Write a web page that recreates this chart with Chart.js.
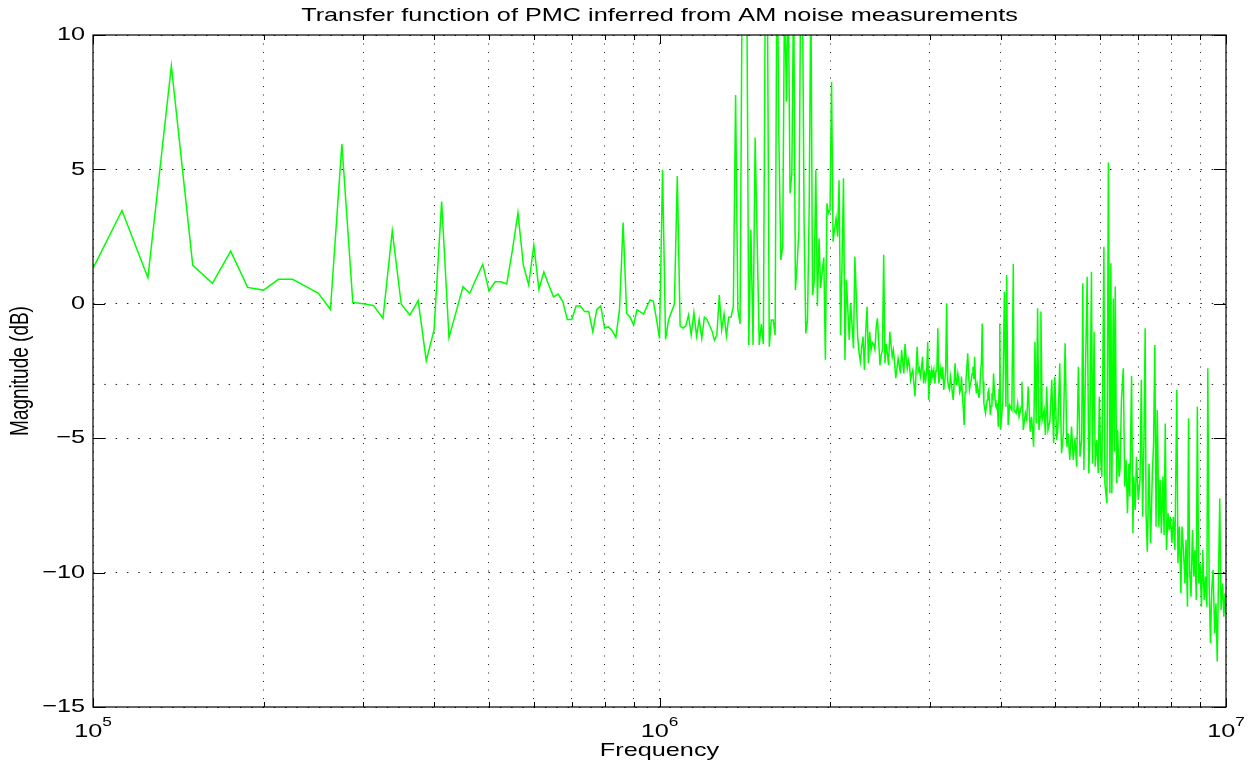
<!DOCTYPE html>
<html>
<head>
<meta charset="utf-8">
<title>Transfer function of PMC</title>
<script src="https://cdn.jsdelivr.net/npm/chart.js@4.4.1/dist/chart.umd.min.js"></script>
<style>
  html, body { margin: 0; padding: 0; background: #fff; }
  canvas { display: block; }
</style>
</head>
<body>
<canvas id="tfChart" width="1253" height="765"></canvas>
<script>
// frequency of each sample, kHz
const freqKHz = [
  100, 112.5, 125, 137.5, 150, 162.5, 175, 187.5, 200, 212.5,
  225, 237.5, 250, 262.5, 275, 287.5, 300, 312.5, 325, 337.5,
  350, 362.5, 375, 387.5, 400, 412.5, 425, 437.5, 450, 462.5,
  475, 487.5, 500, 512.5, 525, 537.5, 550, 562.5, 575, 587.5,
  600, 612.5, 625, 637.5, 650, 662.5, 675, 687.5, 700, 712.5,
  725, 737.5, 750, 762.5, 775, 787.5, 800, 812.5, 825, 837.5,
  850, 862.5, 875, 887.5, 900, 912.5, 925, 937.5, 950, 962.5,
  975, 987.5, 1000, 1012.5, 1025, 1037.5, 1050, 1062.5, 1075, 1087.5,
  1100, 1112.5, 1125, 1137.5, 1150, 1162.5, 1175, 1187.5, 1200, 1212.5,
  1225, 1237.5, 1250, 1262.5, 1275, 1287.5, 1300, 1312.5, 1325, 1337.5,
  1350, 1362.5, 1375, 1387.5, 1400, 1412.5, 1425, 1437.5, 1450, 1462.5,
  1475, 1487.5, 1500, 1512.5, 1525, 1537.5, 1550, 1562.5, 1575, 1587.5,
  1600, 1612.5, 1625, 1637.5, 1650, 1662.5, 1675, 1687.5, 1700, 1712.5,
  1725, 1737.5, 1750, 1762.5, 1775, 1787.5, 1800, 1812.5, 1825, 1837.5,
  1850, 1862.5, 1875, 1887.5, 1900, 1912.5, 1925, 1937.5, 1950, 1962.5,
  1975, 1987.5, 2000, 2012.5, 2025, 2037.5, 2050, 2062.5, 2075, 2087.5,
  2100, 2112.5, 2125, 2137.5, 2150, 2162.5, 2175, 2187.5, 2200, 2212.5,
  2225, 2237.5, 2250, 2262.5, 2275, 2287.5, 2300, 2312.5, 2325, 2337.5,
  2350, 2362.5, 2375, 2387.5, 2400, 2412.5, 2425, 2437.5, 2450, 2462.5,
  2475, 2487.5, 2500, 2512.5, 2525, 2537.5, 2550, 2562.5, 2575, 2587.5,
  2600, 2612.5, 2625, 2637.5, 2650, 2662.5, 2675, 2687.5, 2700, 2712.5,
  2725, 2737.5, 2750, 2762.5, 2775, 2787.5, 2800, 2812.5, 2825, 2837.5,
  2850, 2862.5, 2875, 2887.5, 2900, 2912.5, 2925, 2937.5, 2950, 2962.5,
  2975, 2987.5, 3000, 3012.5, 3025, 3037.5, 3050, 3062.5, 3075, 3087.5,
  3100, 3112.5, 3125, 3137.5, 3150, 3162.5, 3175, 3187.5, 3200, 3212.5,
  3225, 3237.5, 3250, 3262.5, 3275, 3287.5, 3300, 3312.5, 3325, 3337.5,
  3350, 3362.5, 3375, 3387.5, 3400, 3412.5, 3425, 3437.5, 3450, 3462.5,
  3475, 3487.5, 3500, 3512.5, 3525, 3537.5, 3550, 3562.5, 3575, 3587.5,
  3600, 3612.5, 3625, 3637.5, 3650, 3662.5, 3675, 3687.5, 3700, 3712.5,
  3725, 3737.5, 3750, 3762.5, 3775, 3787.5, 3800, 3812.5, 3825, 3837.5,
  3850, 3862.5, 3875, 3887.5, 3900, 3912.5, 3925, 3937.5, 3950, 3962.5,
  3975, 3987.5, 4000,
  4037.5, 4062.5, 4087.5, 4100, 4125, 4150, 4187.5, 4212.5, 4225, 4262.5,
  4287.5, 4312.5, 4350, 4362.5, 4387.5, 4425, 4450, 4475, 4512.5, 4537.5,
  4575, 4600, 4625, 4650, 4675, 4700, 4712.5, 4737.5, 4775, 4800,
  4825, 4850, 4887.5, 4925, 4962.5, 4987.5, 5025, 5050, 5087.5, 5125,
  5162.5, 5200, 5237.5, 5262.5, 5300, 5337.5, 5375, 5412.5, 5450, 5487.5,
  5525, 5562.5, 5587.5, 5612.5, 5650, 5687.5, 5725, 5750, 5787.5, 5812.5,
  5850, 5875, 5912.5, 5950, 5975, 6012.5, 6037.5, 6087.5, 6112.5, 6162.5,
  6200, 6237.5, 6262.5, 6287.5, 6325, 6350, 6375, 6412.5, 6437.5, 6475,
  6500, 6537.5, 6587.5, 6625, 6662.5, 6700, 6737.5, 6762.5, 6812.5, 6850,
  6875, 6912.5, 6950, 7000, 7050, 7087.5, 7125, 7162.5, 7200, 7225,
  7262.5, 7312.5, 7362.5, 7412.5, 7450, 7487.5, 7525, 7562.5, 7612.5, 7650,
  7687.5, 7737.5, 7775, 7812.5, 7850, 7900, 7937.5, 7975, 8025, 8075,
  8125, 8187.5, 8225, 8275, 8325, 8362.5, 8412.5, 8462.5, 8500, 8550,
  8587.5, 8625, 8675, 8725, 8775, 8812.5, 8862.5, 8900, 8950, 9000,
  9050, 9100, 9150, 9200, 9250, 9287.5, 9337.5, 9387.5, 9437.5, 9487.5,
  9550, 9600, 9650, 9700, 9750, 9800, 9862.5, 9912.5, 9962.5, 10000
];

// magnitude, dB (same order as freqKHz)
const magDb = [
  1.32, 3.47, 0.97, 8.85, 1.43, 0.76, 1.96, 0.61, 0.51, 0.91,
  0.91, 0.65, 0.39, -0.21, 5.94, 0.05, 0.0, -0.06, -0.54, 2.71,
  -0.01, -0.42, 0.12, -2.12, -0.97, 3.80, -1.25, -0.3, 0.64, 0.39,
  0.95, 1.47, 0.48, 0.82, 0.82, 0.74, 2.0, 3.39, 1.44, 0.70,
  2.19, 0.54, 1.19, 0.7, 0.26, 0.36, 0.08, -0.58, -0.58, -0.08,
  -0.08, -0.29, -0.29, -1.04, -0.21, -0.08, -0.91, -0.85, -1.0, -1.25,
  -0.21, 3.02, -0.36, -0.5, -0.79, -0.23, -0.3, -0.38, -0.1, 0.14,
  0.1, -0.55, -1.29, 4.98, -1.32, -0.60, -0.3, -0.01, 4.75, -0.83,
  -0.9, -0.83, -0.42, -1.16, -0.33, -1.2, -0.58, -1.29, -0.5, -0.58,
  -0.8, -1.0, -1.36, -1.16, 0.33, -0.97, -0.38, -1.2, -0.5, -0.5,
  -0.1, 7.77, -0.2, -0.75, 13, 11, 13, -1.53, 2.75, -1.53,
  6.19, 2.3, -1.53, -0.75, -1.5, 12, 12, -1.6, -0.6, -0.6,
  -1.16, 14, 6, 1.63, 2.12, 12, 7.52, 12, 4.11, 4.85,
  12, 0.51, 1.5, 2.75, 12, 12, 3, -1.1, -0.6, 3.55,
  12, 0.33, 0.8, 4.98, -0.08, 2.44, 0.58, 1.2, 1.72, -2.08,
  3.74, 3.37, 3.5, 8.26, 2.31, 2.8, 3.18, 2.5, 4.6, -1.16,
  1.5, 4.67, -2.09, 0.89, -0.2, -1.35, 0.02, -0.8, -1.66, 1.75,
  0.3, -1.22, -1.8, -2.15, -1.6, -1.22, -2.46, -1.0, -0.11, -2.21,
  -1.04, -1.72, -1.44, -1.5, -1.7, -0.91, -0.54, -1.4, -2.28, -1.9,
  -1.72, 1.82, -2.21, -1.5, -1.84, -2.28, -1.04, -1.5, -1.97, -1.72,
  -2.2, -2.77, -2.4, -2.03, -2.3, -2.59, -1.72, -2.2, -2.59, -1.5,
  -2.0, -2.4, -2.09, -2.3, -2.83, -2.6, -2.46, -3.0, -3.45, -2.5,
  -1.6, -2.52, -2.4, -2.7, -2.4, -1.97, -2.96, -2.6, -2.83, -2.5,
  -1.41, -3.58, -2.46, -2.96, -2.46, -2.7, -2.46, -2.96, -2.5, -2.5,
  -0.91, -2.96, -2.7, -2.4, -2.8, -2.34, -3.2, -2.9, -2.5, 0.02,
  -2.83, -3.1, -3.2, -2.7, -2.96, -3.3, -3.58, -2.9, -2.21, -3.0,
  -2.96, -2.6, -2.83, -3.3, -3.2, -2.71, -3.4, -3.9, -4.51, -3.3,
  -2.83, -2.4, -1.84, -2.6, -3.2, -3.0, -2.83, -2.6, -2.34, -2.8,
  -1.97, -2.9, -3.33, -3.0, -3.2, -3.5, -3.33, -2.5, -2.2, -0.73,
  -2.9, -3.7, -3.9, -4.07, -3.8, -3.58, -3.3, -3.2, -3.6, -4.13,
  -3.8, -3.33, -3.6, -2.59, -3.2, -3.58, -3.83, -3.89, -3.7, -4.57,
  -3.2, -0.73, -4.69,
  -3.58, 0.45, -3.83, 1.07, -4.51, -3.76, -3.95, 1.48, -3.95, -4.07,
  -3.7, -4.2, -3.83, -2.9, -4.69, -4.07, -4.32, -3.08, -4.76, -4.2,
  -5.32, -1.41, -4.45, -0.17, -4.69, -4.2, -0.29, -4.32, -3.95, -4.88,
  -3.08, -4.69, -4.38, -2.83, -5.19, -2.71, -5.07, -4.57, -2.21, -5.56,
  -4.82, -1.47, -5.32, -4.82, -5.81, -4.57, -5.81, -5.0, -6.06, -2.34,
  -5.69, -5.07, 0.76, -6.18, -2.34, 1.01, -6.3, -4.94, 1.19, -5.94,
  -1.04, -6.06, -5.07, -6.3, -3.46, -5.81, -6.43, 2.12, -6.68, -7.42,
  5.26, -7.05, 1.51, -7.05, 0.2, -5.5, 0.64, -6.68, -4.69, -6.43,
  -6.18, -3.58, -2.4, -6.8, -5.81, -7.79, -5.94, -7.17, -2.69, -8.54,
  -6.43, -7.67, -5.69, -7.3, -6.55, -2.83, -7.92, -5.2, -0.91, -7.79,
  -9.22, -5.94, -8.9, -6.3, -5.2, -1.53, -8.29, -3.95, -8.29, -6.55,
  -8.54, -6.43, -8.6, -4.45, -9.16, -7.79, -8.42, -7.92, -8.9, -7.92,
  -9.16, -3.21, -9.65, -8.29, -10.77, -8.29, -9.16, -10.4, -8.78, -11.27,
  -4.26, -9.9, -10.9, -8.42, -10.15, -9.16, -11.02, -3.83, -10.4, -9.65,
  -11.27, -9.16, -11.02, -10.15, -11.27, -2.4, -10.4, -12.63, -10.65, -9.9,
  -12.26, -11.14, -13.31, -10.15, -7.24, -11.39, -10.4, -11.64, -10.77, -11.5
];

// dotted -3 dB reference line
const refFreqKHz = [100, 10000];
const refDb = [-3, -3];

// axis ticks
const xGridKHz = [100, 200, 300, 400, 500, 600, 700, 800, 900,
                  1000, 2000, 3000, 4000, 5000, 6000, 7000, 8000, 9000, 10000];
const xDecadesKHz = [100, 1000, 10000];
const yTicks = [-15, -10, -5, 0, 5, 10];

const titleText = 'Transfer function of PMC inferred from AM noise measurements';
const xTitle = 'Frequency';
const yTitle = 'Magnitude (dB)';

// the reference figure is stretched sideways, so text is widened to match
const STRETCH = 1.33;
const FONT = '"Liberation Sans", Arial, Helvetica, sans-serif';

function drawText(ctx, str, x, y, size, align, baseline) {
    ctx.save();
    ctx.font = size + 'px ' + FONT;
    ctx.textAlign = align;
    ctx.textBaseline = baseline;
    ctx.fillStyle = '#000';
    ctx.translate(x, y);
    ctx.scale(STRETCH, 1);
    ctx.fillText(str, 0, 0);
    ctx.restore();
}

function dbLabel(v) {
    return v < 0 ? '\u2212' + Math.abs(v) : String(v);
}

// matlab-ish box, inward ticks and all the text
const matlabAxes = {
    id: 'matlabAxes',
    afterDraw(chart) {
        const ctx = chart.ctx;
        const a = chart.chartArea;
        const xs = chart.scales.x;
        const ys = chart.scales.y;

        ctx.save();
        ctx.strokeStyle = '#000';
        ctx.lineWidth = 1.2;
        ctx.strokeRect(a.left, a.top, a.right - a.left, a.bottom - a.top);

        ctx.beginPath();
        xGridKHz.forEach(v => {
            const px = Math.round(xs.getPixelForValue(v)) + 0.5;
            const len = xDecadesKHz.includes(v) ? 9 : 5;
            ctx.moveTo(px, a.bottom); ctx.lineTo(px, a.bottom - len);
            ctx.moveTo(px, a.top); ctx.lineTo(px, a.top + len);
        });
        yTicks.forEach(v => {
            const py = Math.round(ys.getPixelForValue(v)) + 0.5;
            ctx.moveTo(a.left, py); ctx.lineTo(a.left + 12, py);
            ctx.moveTo(a.right, py); ctx.lineTo(a.right - 12, py);
        });
        ctx.lineWidth = 1;
        ctx.stroke();
        ctx.restore();

        // y tick labels
        yTicks.forEach(v => {
            drawText(ctx, dbLabel(v), a.left - 8, ys.getPixelForValue(v), 19, 'right', 'middle');
        });

        // x tick labels as 10^n
        xDecadesKHz.forEach(v => {
            const px = xs.getPixelForValue(v);
            const exp = String(Math.round(Math.log10(v * 1000)));
            ctx.save();
            ctx.font = '19px ' + FONT;
            const wBase = ctx.measureText('10').width * STRETCH;
            ctx.font = '13px ' + FONT;
            const wExp = ctx.measureText(exp).width * STRETCH;
            ctx.restore();
            const left = px - (wBase + wExp) / 2;
            drawText(ctx, '10', left, a.bottom + 30, 19, 'left', 'alphabetic');
            drawText(ctx, exp, left + wBase, a.bottom + 19, 13, 'left', 'alphabetic');
        });

        const cx = (a.left + a.right) / 2;
        drawText(ctx, titleText, cx, a.top - 14, 19, 'center', 'alphabetic');
        drawText(ctx, xTitle, cx, a.bottom + 49, 19, 'center', 'alphabetic');

        ctx.save();
        ctx.font = '19px ' + FONT;
        ctx.fillStyle = '#000';
        ctx.textAlign = 'center';
        ctx.textBaseline = 'middle';
        ctx.translate(21, (a.top + a.bottom) / 2);
        ctx.rotate(-Math.PI / 2);
        ctx.scale(1, STRETCH);
        ctx.fillText(yTitle, 0, 0);
        ctx.restore();
    }
};

const tracePoints = freqKHz.map((f, i) => ({ x: f, y: magDb[i] }));
const refPoints = refFreqKHz.map((f, i) => ({ x: f, y: refDb[i] }));

new Chart(document.getElementById('tfChart').getContext('2d'), {
    type: 'scatter',
    data: {
        datasets: [
            {
                label: 'PMC transfer function',
                data: tracePoints,
                showLine: true,
                borderColor: '#00ff00',
                backgroundColor: '#00ff00',
                borderWidth: 1.5,
                pointRadius: 0,
                tension: 0,
                order: 0
            },
            {
                label: '-3 dB',
                data: refPoints,
                showLine: true,
                borderColor: 'rgba(0, 0, 0, 0.85)',
                borderWidth: 1,
                borderDash: [1.5, 9.8],
                pointRadius: 0,
                order: 1
            }
        ]
    },
    options: {
        responsive: false,
        animation: false,
        devicePixelRatio: 1,
        layout: { padding: { left: 93, right: 27, top: 35, bottom: 58 } },
        plugins: {
            legend: { display: false },
            title: { display: false },
            tooltip: { enabled: false }
        },
        scales: {
            x: {
                type: 'logarithmic',
                min: 100,
                max: 10000,
                afterBuildTicks: scale => { scale.ticks = xGridKHz.map(v => ({ value: v })); },
                ticks: { display: false },
                grid: { color: 'rgba(0, 0, 0, 0.9)', lineWidth: 1, drawTicks: false },
                border: { display: false, dash: [1, 7.5] }
            },
            y: {
                min: -15,
                max: 10,
                afterBuildTicks: scale => { scale.ticks = yTicks.map(v => ({ value: v })); },
                ticks: { display: false },
                grid: { color: 'rgba(0, 0, 0, 0.9)', lineWidth: 1, drawTicks: false },
                border: { display: false, dash: [1.5, 9.8] }
            }
        }
    },
    plugins: [matlabAxes]
});
</script>
</body>
</html>
